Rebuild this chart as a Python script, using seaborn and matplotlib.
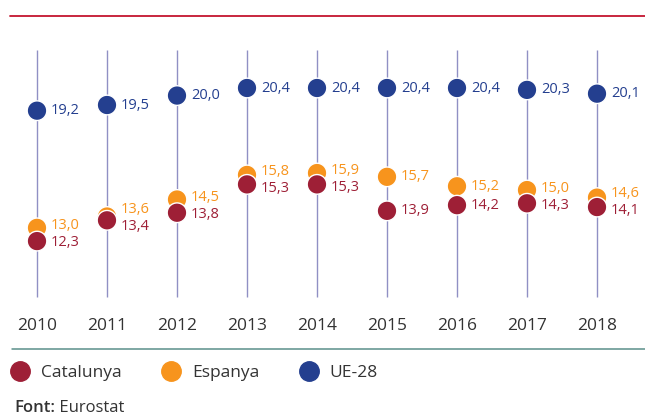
import pandas as pd
import matplotlib.pyplot as plt
import seaborn as sns

# Data
years = [2010, 2011, 2012, 2013, 2014, 2015, 2016, 2017, 2018]
catalunya = [12.3, 13.4, 13.8, 15.3, 15.3, 13.9, 14.2, 14.3, 14.1]
espanya = [13.0, 13.6, 14.5, 15.8, 15.9, 15.7, 15.2, 15.0, 14.6]
ue28 = [19.2, 19.5, 20.0, 20.4, 20.4, 20.4, 20.4, 20.3, 20.1]
series_names = ["Catalunya", "Espanya", "UE-28"]

colors = {"Catalunya": "#9e1f36", "Espanya": "#f7941d", "UE-28": "#243f8f"}

# draw order: UE-28 first, Catalunya on top
df = pd.concat([
    pd.DataFrame({"year": years, "value": vals, "serie": name})
    for name, vals in zip(["UE-28", "Espanya", "Catalunya"], [ue28, espanya, catalunya])
])

sns.set_style("white")
plt.rcParams["font.family"] = ["Open Sans", "DejaVu Sans"]

fig = plt.figure(figsize=(6.45, 4.17), dpi=100)
ax = fig.add_axes([0, 0, 1, 1])

# pixel -> data mapping
px_unit = 18.9
def py(p):
    return 20.4 - (p - 88) / px_unit

ax.set_xlim(2010 - 37 / 70, 2010 + 608 / 70)
ax.set_ylim(py(417), py(0))
ax.axis("off")

# vertical guide lines
ax.vlines(years, py(297), py(50), color="#9090c4", lw=1, zorder=1)

# top red rule and bottom teal rule
ax.plot([2010 - 27 / 70, 2010 + 608 / 70], [py(16), py(16)], color="#c4152f", lw=1.3)
ax.plot([2010 - 25 / 70, 2010 + 608 / 70], [py(349), py(349)], color="#5b8f8a", lw=1.1)

sns.scatterplot(data=df, x="year", y="value", hue="serie", palette=colors,
                s=200, edgecolor="white", linewidth=1, ax=ax, zorder=3, legend=False)

for name, vals in zip(series_names, [catalunya, espanya, ue28]):
    for i, (yr, v) in enumerate(zip(years, vals)):
        ly = v
        gap = espanya[i] - catalunya[i]
        if name != "UE-28" and gap < 0.8:
            shift = (0.8 - gap) / 2 + 0.05
            ly = v + shift if name == "Espanya" else v - shift
        ax.text(yr + 14 / 70, ly, f"{v:.1f}".replace(".", ","), color=colors[name],
                fontsize=10.5, va="center", ha="left")

for yr in years:
    ax.text(yr, py(326), str(yr), color="#333333", fontsize=12.5, ha="center", va="center")

# legend
handles = [plt.Line2D([], [], marker="o", ls="", markersize=14, markerfacecolor=colors[n],
                      markeredgecolor=colors[n]) for n in series_names]
fig.legend(handles, series_names, loc="center left", bbox_to_anchor=(-0.009, 1 - 373 / 417),
           ncol=3, frameon=False, fontsize=12.5, handletextpad=0.6, columnspacing=2.25,
           labelcolor="#333333", handlelength=1.2)

t = fig.text(14 / 645, 1 - 408 / 417, "Font:", fontsize=12, color="#333333",
             fontweight="semibold", va="center")
ax.annotate(" Eurostat", xy=(1, 0), xycoords=t, va="bottom", fontsize=12, color="#333333")

fig.savefig("out.png", dpi=100)
